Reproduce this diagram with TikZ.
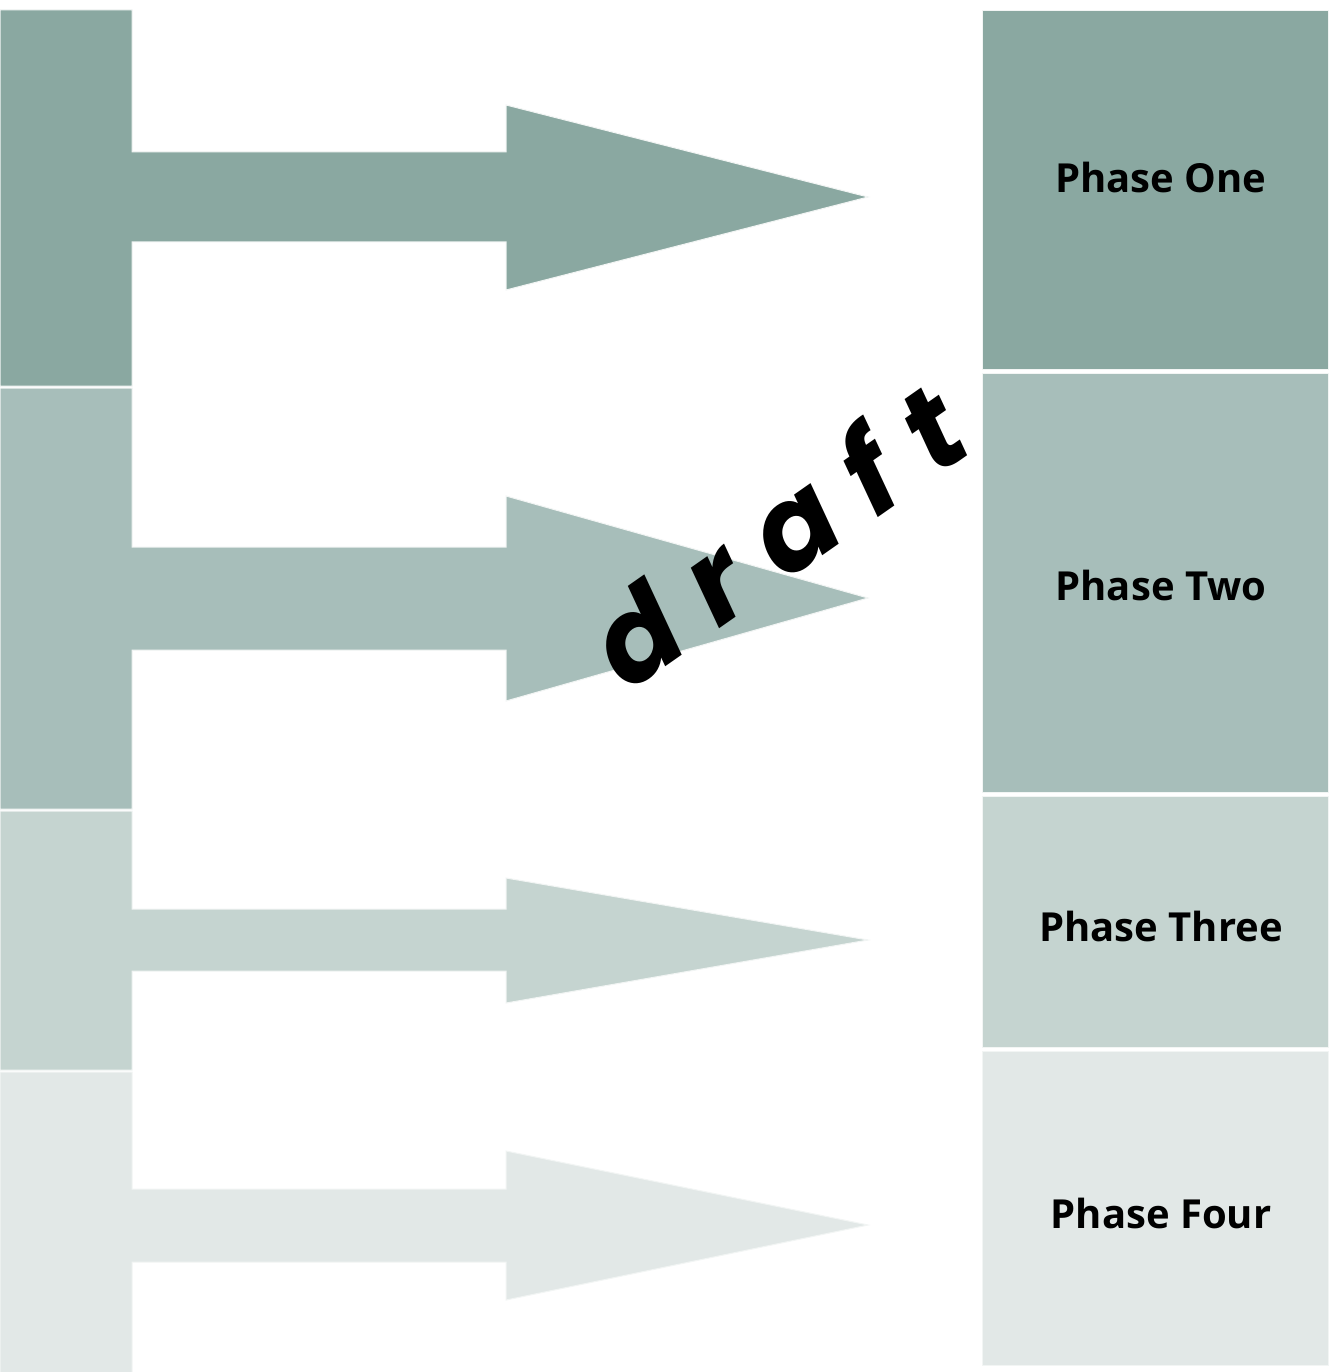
\documentclass[tikz,border=0pt]{standalone}
\usepackage{fontspec}
\setmainfont{Open Sans}
\newfontfamily\draftfont{Poppins}
\definecolor{cA}{HTML}{8AA8A1}
\definecolor{cB}{HTML}{A7BEBA}
\definecolor{cC}{HTML}{C5D4D0}
\definecolor{cD}{HTML}{E2E8E7}
\definecolor{edge}{HTML}{F2F5F4}
\begin{document}
\begin{tikzpicture}[x=1pt,y=-1pt,
  band/.style={draw=edge,line width=1pt},
  phasebox/.style={draw=edge,line width=1pt,anchor=north west,inner sep=0pt},
  phaselabel/.style={font=\fontsize{40}{46}\selectfont\bfseries,text=black}]
\useasboundingbox (0,0) rectangle (1328,1372);
\fill[white] (0,0) rectangle (1328,1372);
% left bands with block arrows
\newcommand\bandarrow[8]{%
  \draw[band,fill=#1] (0,#2) -- (132,#2) -- (132,#4) -- (506,#4) -- (506,#6)
    -- (868,#8) -- (506,#7) -- (506,#5) -- (132,#5) -- (132,#3) -- (0,#3) -- cycle;}
\bandarrow{cA}{10}{386}{152}{242}{105}{290}{197}
\bandarrow{cB}{388}{809}{547}{650}{496}{701}{598}
\bandarrow{cC}{811}{1070}{909}{971}{878}{1003}{940}
\bandarrow{cD}{1072}{1380}{1189}{1262}{1151}{1300}{1225}
% right phase boxes
\node[phasebox,fill=cA,minimum width=346pt,minimum height=359pt] (p1) at (982,10) {};
\node[phasebox,fill=cB,minimum width=346pt,minimum height=419pt] (p2) at (982,373) {};
\node[phasebox,fill=cC,minimum width=346pt,minimum height=251pt] (p3) at (982,796) {};
\node[phasebox,fill=cD,minimum width=346pt,minimum height=314pt] (p4) at (982,1051) {};
\node[phaselabel] (t1) at (1161,178) {Phase One};
\node[phaselabel] (t2) at (1161,585) {Phase Two};
\node[phaselabel] (t3) at (1161,926) {Phase Three};
\node[phaselabel] (t4) at (1161,1213) {Phase Four};
% watermark
\node[rotate=35,font=\draftfont\fontsize{118}{124}\selectfont\bfseries\itshape] (wm) at (775,534)
  {d\hspace{31pt}r\hspace{31pt}a\hspace{31pt}f\hspace{31pt}t};
\end{tikzpicture}
\end{document}
